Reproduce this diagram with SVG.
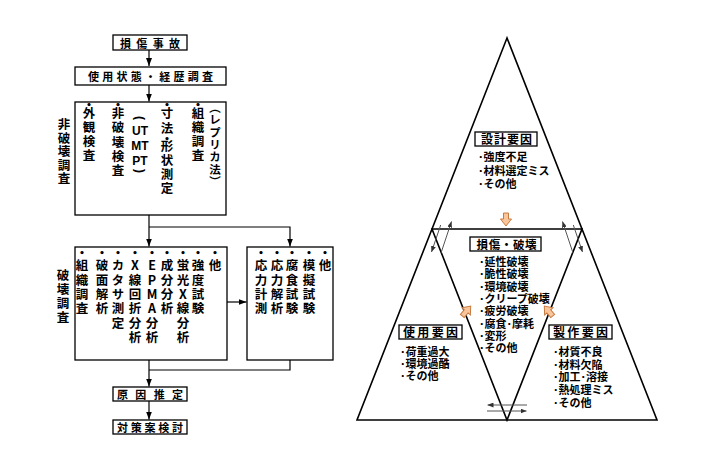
<svg xmlns="http://www.w3.org/2000/svg" width="718" height="471" viewBox="0 0 718 471">
<style>
text{font-family:"Noto Sans CJK JP","Noto Sans",sans-serif;fill:#000;font-weight:bold}
.box{fill:#fff;stroke:#000;stroke-width:1.3}
.ln{fill:none;stroke:#000;stroke-width:1.2}
.vt{font-size:12.5px;writing-mode:vertical-rl;text-orientation:upright;letter-spacing:1.5px}
.v2{font-size:12.5px;writing-mode:vertical-rl;text-orientation:upright;letter-spacing:1.8px}
.hb{font-size:11px}
.rl{font-size:11px}
.rb{font-size:12px}
.tri{fill:none;stroke:#000;stroke-width:1.6;stroke-linejoin:miter}
.sm{fill:none;stroke:#555;stroke-width:1}
.oa{fill:#f9c69c;stroke:#c77a40;stroke-width:1}
.lat{font-family:"Liberation Sans",Arial,sans-serif;font-size:12px;text-anchor:middle}
</style>
<defs>
<marker id="ah" markerWidth="8" markerHeight="6" refX="8" refY="3" orient="auto" markerUnits="userSpaceOnUse"><path d="M0,0 L8,3 L0,6 z" fill="#000"/></marker>
<marker id="sh" markerWidth="6" markerHeight="5" refX="6" refY="2.5" orient="auto" markerUnits="userSpaceOnUse"><path d="M0,0 L6,2.5 L0,5 z" fill="#333"/></marker>
<path id="blk" d="M-2.5,0 H2.5 V6 H5.5 L0,13 L-5.5,6 H-2.5 Z"/>
</defs>
<rect width="718" height="471" fill="#fff"/>

<g id="connectors">
<path class="ln" d="M149,50 V66" marker-end="url(#ah)"/>
<path class="ln" d="M149,85 V101.5" marker-end="url(#ah)"/>
<path class="ln" d="M149,215 V246.5" marker-end="url(#ah)"/>
<path class="ln" d="M149,227 H290 V246.5" marker-end="url(#ah)"/>
<path class="ln" d="M227,302 H246.5" marker-end="url(#ah)"/>
<path class="ln" d="M290,360 V370 H149"/>
<path class="ln" d="M149,360 V386.5" marker-end="url(#ah)"/>
<path class="ln" d="M149,401 V419.5" marker-end="url(#ah)"/>
</g>

<g id="n-jiko">
<rect class="box" x="113" y="35" width="74" height="15"/>
<text class="hb" x="120" y="47.5" textLength="60" lengthAdjust="spacing">損傷事故</text>
</g>

<g id="n-shiyou">
<rect class="box" x="75" y="67" width="151" height="18"/>
<text class="hb" x="88" y="80.5" textLength="125" lengthAdjust="spacing">使用状態・経歴調査</text>
</g>

<g id="n-hihakai">
<text class="vt" style="letter-spacing:1px" x="64" y="118.3">非破壊調査</text>
<rect class="box" x="75" y="102" width="151" height="113"/>
<text class="vt" x="89" y="98.75"><tspan style="letter-spacing:-4px">・</tspan>外観検査</text>
<text class="vt" style="letter-spacing:1.7px" x="118" y="98.75"><tspan style="letter-spacing:-4px">・</tspan>非破壊検査</text>
<text class="lat" transform="translate(140,118) rotate(90)" dominant-baseline="central">(</text>
<text class="lat" x="140" y="135">UT</text>
<text class="lat" x="140" y="150">MT</text>
<text class="lat" x="140" y="165">PT</text>
<text class="lat" transform="translate(140,171) rotate(90)" dominant-baseline="central">)</text>
<text class="vt" x="167" y="98.75"><tspan style="letter-spacing:-4px">・</tspan>寸<tspan style="letter-spacing:-1.5px">法</tspan><tspan style="letter-spacing:-5px">・</tspan>形状測定</text>
<text class="vt" x="198" y="98.75"><tspan style="letter-spacing:-4px">・</tspan>組織調査</text>
<text class="vt" style="font-size:11.5px;letter-spacing:0.8px" x="215" y="102">（レプリカ法）</text>
</g>

<g id="n-hakai">
<text class="vt" x="63" y="269.3">破壊調査</text>
<rect class="box" x="75" y="247" width="152" height="113"/>
<text class="v2" x="82" y="247"><tspan style="letter-spacing:-0.2px">・</tspan>組織調査</text>
<text class="v2" x="102" y="247"><tspan style="letter-spacing:-0.2px">・</tspan>破面解析</text>
<text class="v2" x="118" y="247"><tspan style="letter-spacing:-0.2px">・</tspan>カタサ測定</text>
<text class="v2" x="135" y="247"><tspan style="letter-spacing:-0.2px">・</tspan>X線回折分析</text>
<text class="v2" x="152" y="247"><tspan style="letter-spacing:-0.2px">・</tspan>EPMA分析</text>
<text class="v2" x="167" y="247"><tspan style="letter-spacing:-0.2px">・</tspan>成分分析</text>
<text class="v2" x="183" y="247"><tspan style="letter-spacing:-0.2px">・</tspan>蛍光X線分析</text>
<text class="v2" x="198" y="247"><tspan style="letter-spacing:-0.2px">・</tspan>強度試験</text>
<text class="v2" x="215" y="247"><tspan style="letter-spacing:-0.2px">・</tspan>他</text>
</g>

<g id="n-ouryoku">
<rect class="box" x="247" y="247" width="86" height="113"/>
<text class="v2" x="261" y="247"><tspan style="letter-spacing:-0.2px">・</tspan>応力計測</text>
<text class="v2" x="277" y="247"><tspan style="letter-spacing:-0.2px">・</tspan>応力解析</text>
<text class="v2" x="292" y="247"><tspan style="letter-spacing:-0.2px">・</tspan>腐食試験</text>
<text class="v2" x="309" y="247"><tspan style="letter-spacing:-0.2px">・</tspan>模擬試験</text>
<text class="v2" x="325" y="247"><tspan style="letter-spacing:-0.2px">・</tspan>他</text>
</g>

<g id="n-gen-in">
<rect class="box" x="113" y="387" width="74" height="14"/>
<text class="hb" x="117" y="398.5" textLength="66" lengthAdjust="spacing">原因推定</text>
</g>

<g id="n-taisaku">
<rect class="box" x="113" y="420" width="74" height="14"/>
<text class="hb" x="117" y="431.5" textLength="66" lengthAdjust="spacing">対策案検討</text>
</g>

<g id="triangle">
<polygon class="tri" points="507,38 357,420 657,420"/>
<polygon class="tri" points="432,229 582,229 507,420"/>
</g>

<g id="small-arrows">
<path class="sm" d="M440.7,225 L431.5,252" marker-end="url(#sh)"/>
<path class="sm" d="M441,253 L451.5,221.5" marker-end="url(#sh)"/>
<path class="sm" d="M573.3,225 L582.5,252" marker-end="url(#sh)"/>
<path class="sm" d="M573,253 L562.5,221.5" marker-end="url(#sh)"/>
<path class="sm" d="M527,405 H487.5" marker-end="url(#sh)"/>
<path class="sm" d="M487,411 H526.5" marker-end="url(#sh)"/>
</g>

<g id="orange-arrows">
<use href="#blk" class="oa" transform="translate(506,213)"/>
<use href="#blk" class="oa" transform="translate(466.5,311) rotate(-140) translate(0,-6.5)"/>
<use href="#blk" class="oa" transform="translate(548.5,311) rotate(140) translate(0,-6.5)"/>
</g>

<g id="n-sekkei">
<rect class="box" x="475" y="132" width="62" height="14"/>
<text class="rb" x="481" y="143.5" textLength="51" lengthAdjust="spacing">設計要因</text>
<text class="rl"><tspan x="478" y="161">･強度不足</tspan><tspan x="478" y="174.5">･材料選定ミス</tspan><tspan x="478" y="188">･その他</tspan></text>
</g>

<g id="n-sonsho">
<rect class="box" x="470" y="237" width="71" height="14"/>
<text class="rb" style="font-size:11.5px" x="476.5" y="248.5" textLength="60" lengthAdjust="spacing">損傷・破壊</text>
<text class="rl"><tspan x="479" y="266">･延性破壊</tspan><tspan x="479" y="278.3">･脆性破壊</tspan><tspan x="479" y="290.6">･環境破壊</tspan><tspan x="479" y="302.9">･クリープ破壊</tspan><tspan x="479" y="315.2">･疲労破壊</tspan><tspan x="479" y="327.5">･腐食･摩耗</tspan><tspan x="479" y="339.8">･変形</tspan><tspan x="479" y="352.1">･その他</tspan></text>
</g>

<g id="n-shiyou-youin">
<rect class="box" x="399" y="325" width="63" height="14"/>
<text class="rb" x="403" y="336.5" textLength="55" lengthAdjust="spacing">使用要因</text>
<text class="rl"><tspan x="400" y="356">･荷重過大</tspan><tspan x="400" y="368">･環境過酷</tspan><tspan x="400" y="380">･その他</tspan></text>
</g>

<g id="n-seisaku">
<rect class="box" x="549" y="325" width="63" height="14"/>
<text class="rb" x="553" y="336.5" textLength="55" lengthAdjust="spacing">製作要因</text>
<text class="rl"><tspan x="553" y="356">･材質不良</tspan><tspan x="553" y="368.7">･材料欠陥</tspan><tspan x="553" y="381.4">･加工･溶接</tspan><tspan x="553" y="394.1">･熱処理ミス</tspan><tspan x="553" y="406.8">･その他</tspan></text>
</g>
</svg>
